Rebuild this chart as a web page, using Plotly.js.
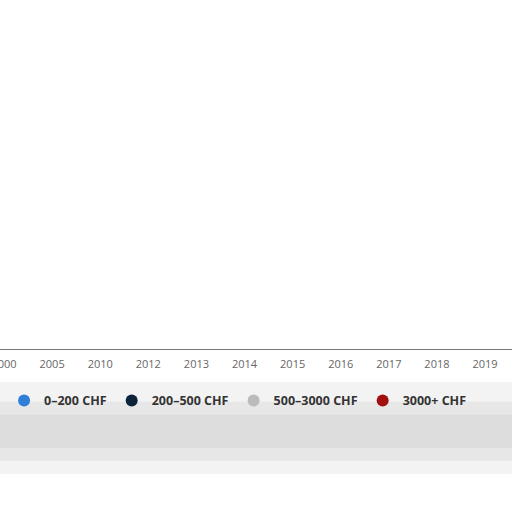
<!DOCTYPE html>
<html>
<head>
<meta charset="utf-8">
<script src="https://cdn.plot.ly/plotly-3.0.1.min.js"></script>
<style>
  html, body { margin: 0; padding: 0; background: #fff; }
  #chart { width: 512px; height: 512px; }
</style>
</head>
<body>
<div id="chart"></div>
<script>
// Jahre (Kategorien der x-Achse)
var years = ["2000", "2005", "2010", "2012", "2013", "2014", "2015", "2016", "2017", "2018", "2019"];

// Serien: Balken sind im Bild nicht mehr sichtbar -> Werte 0
var seriesNames = ["0–200 CHF", "200–500 CHF", "500–3000 CHF", "3000+ CHF"];
var s0to200 = [0, 0, 0, 0, 0, 0, 0, 0, 0, 0, 0];
var s200to500 = [0, 0, 0, 0, 0, 0, 0, 0, 0, 0, 0];
var s500to3000 = [0, 0, 0, 0, 0, 0, 0, 0, 0, 0, 0];
var s3000plus = [0, 0, 0, 0, 0, 0, 0, 0, 0, 0, 0];
var seriesColors = ["#2f7ed8", "#0d233a", "#bbbbbb", "#a30f0f"];

var seriesValues = [s0to200, s200to500, s500to3000, s3000plus];

var traces = [];
seriesValues.forEach(function (vals, i) {
  traces.push({
    type: "bar",
    x: years,
    y: vals,
    name: seriesNames[i],
    marker: { color: seriesColors[i] },
    showlegend: false,
    hoverinfo: "skip"
  });
});
// Legenden-Einträge mit runden Symbolen
seriesNames.forEach(function (nm, i) {
  traces.push({
    type: "scatter",
    mode: "markers",
    x: [null],
    y: [null],
    name: nm,
    marker: { color: seriesColors[i], size: 12, symbol: "circle" },
    showlegend: true
  });
});

// weicher grauer Schleier unter der Legende
var haze = [
  [-0.10, -0.38, 0.18],
  [-0.16, -0.34, 0.22],
  [-0.20, -0.30, 0.25]
];
var shapes = haze.map(function (h) {
  return {
    type: "rect", xref: "paper", yref: "paper", x0: 0, x1: 1, y0: h[0], y1: h[1],
    fillcolor: "rgba(190,190,190," + h[2] + ")", line: { width: 0 }, layer: "below"
  };
});

var layout = {
  width: 512,
  height: 512,
  margin: { l: 0, r: 0, t: 20, b: 163 },
  paper_bgcolor: "#ffffff",
  plot_bgcolor: "#ffffff",
  barmode: "stack",
  font: { family: "Open Sans, DejaVu Sans, sans-serif", color: "#333333" },
  xaxis: {
    type: "category",
    range: [-0.083, 10.56],
    showline: true,
    linecolor: "#777777",
    linewidth: 1,
    showgrid: false,
    zeroline: false,
    ticks: "outside",
    ticklen: 5,
    tickcolor: "rgba(0,0,0,0)",
    tickfont: { size: 11, color: "#666666" },
    fixedrange: true
  },
  yaxis: {
    range: [0, 10],
    visible: false,
    fixedrange: true
  },
  showlegend: true,
  legend: {
    orientation: "h",
    traceorder: "normal",
    x: 0.465,
    xanchor: "center",
    y: -0.158,
    yanchor: "middle",
    font: { size: 12.5, color: "#333333", weight: "bold" },
    itemwidth: 30,
    bgcolor: "rgba(0,0,0,0)"
  },
  shapes: shapes
};

Plotly.newPlot("chart", traces, layout, { displayModeBar: false, staticPlot: true });
</script>
</body>
</html>
